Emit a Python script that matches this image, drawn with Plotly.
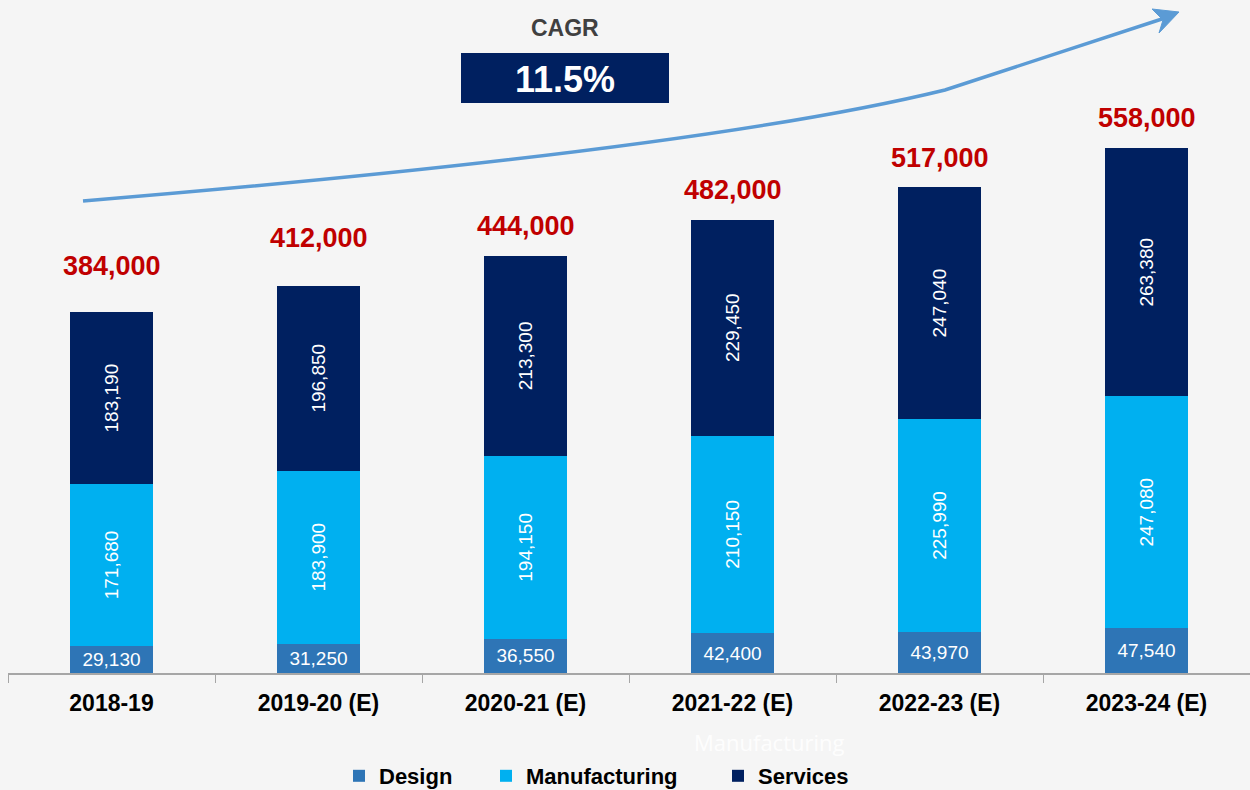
import plotly.graph_objects as go

# ---- data ----
years = ["2018-19", "2019-20 (E)", "2020-21 (E)", "2021-22 (E)", "2022-23 (E)", "2023-24 (E)"]
design = [29130, 31250, 36550, 42400, 43970, 47540]
manufacturing = [171680, 183900, 194150, 210150, 225990, 247080]
services = [183190, 196850, 213300, 229450, 247040, 263380]
totals = [384000, 412000, 444000, 482000, 517000, 558000]
cagr_text = "11.5%"

# ---- styling ----
W, H = 1250, 790
ML, MR, MT, MB = 8, 0, 0, 117
PW, PH = W - ML - MR, H - MT - MB
FONT = "Liberation Sans"
C_DESIGN, C_MANU, C_SERV = "#2e75b6", "#00b0f0", "#002060"
label_lift = [46, 48, 30, 30, 29, 30]
legend_text_x = [381, 528, 760]


def px(x):
    return (x - ML) / PW


def py(y):
    return (H - MB - y) / PH


fig = go.Figure()
series = [("Design", design, C_DESIGN, 0), ("Manufacturing", manufacturing, C_MANU, -90),
          ("Services", services, C_SERV, -90)]
legend_ids = ["legend", "legend2", "legend3"]
for (name, vals, col, ang), lid in zip(series, legend_ids):
    fig.add_trace(go.Bar(
        x=years, y=vals, name=name, legend=lid,
        marker=dict(color=col, line=dict(width=0)),
        text=[f"{v:,}" for v in vals], textposition="inside", insidetextanchor="middle",
        textangle=ang, constraintext="none",
        textfont=dict(color="white", size=19, family=FONT), width=0.4,
    ))

annotations = []
for yr, t, lift in zip(years, totals, label_lift):
    annotations.append(dict(x=yr, y=t, text=f"{t:,}", showarrow=False, yshift=lift,
                            xanchor="center", yanchor="middle",
                            font=dict(color="#c00000", size=27, family=FONT, weight="bold")))

annotations.append(dict(xref="paper", yref="paper", x=px(565), y=py(28), text="CAGR",
                        xanchor="center", yanchor="middle", showarrow=False,
                        font=dict(color="#404040", size=23, family=FONT, weight="bold")))
annotations.append(dict(xref="paper", yref="paper", x=px(565), y=py(79), text=cagr_text,
                        xanchor="center", yanchor="middle", showarrow=False,
                        font=dict(color="white", size=36, family=FONT, weight="bold")))
annotations.append(dict(xref="paper", yref="paper", x=px(770), y=py(742), text="Manufacturing",
                        xanchor="center", yanchor="middle", showarrow=False,
                        font=dict(color="rgba(255,255,255,0.9)", size=22, family="Open Sans")))

shapes = [
    dict(type="rect", xref="paper", yref="paper", x0=px(461), x1=px(669), y0=py(103), y1=py(53),
         fillcolor=C_SERV, line=dict(width=0), layer="below"),
    dict(type="path", xref="paper", yref="paper",
         path=f"M {px(83)},{py(201)} Q {px(700)},{py(150)} {px(945)},{py(90)} L {px(1168)},{py(17)}",
         line=dict(color="#5b9bd5", width=3.5)),
    dict(type="path", xref="paper", yref="paper",
         path=f"M {px(1179)},{py(12)} L {px(1152)},{py(9)} L {px(1163)},{py(20)} L {px(1159)},{py(33)} Z",
         fillcolor="#5b9bd5", line=dict(color="#5b9bd5", width=1)),
]

legend_common = dict(orientation="h", yanchor="middle", y=py(776), xanchor="left",
                     font=dict(size=22, color="black", family=FONT, weight="bold"),
                     bgcolor="rgba(0,0,0,0)", borderwidth=0)
legends = {}
for lid, tx in zip(legend_ids, legend_text_x):
    legends[lid] = dict(legend_common, x=px(tx - 42))

fig.update_layout(
    width=W, height=H, barmode="stack",
    margin=dict(l=ML, r=MR, t=MT, b=MB, autoexpand=False),
    paper_bgcolor="#f5f5f5", plot_bgcolor="rgba(0,0,0,0)",
    font=dict(family=FONT),
    annotations=annotations, shapes=shapes,
    xaxis=dict(showline=True, linecolor="#a6a6a6", linewidth=1.5, ticks="outside",
               tickson="boundaries", ticklen=8, tickcolor="#a6a6a6", ticklabelstandoff=9,
               automargin=False,
               tickfont=dict(size=23, color="black", family=FONT, weight="bold"),
               showgrid=False, fixedrange=True),
    yaxis=dict(visible=False, range=[0, PH / 0.00094], fixedrange=True, automargin=False),
    showlegend=True,
    **legends,
)

fig.write_html("out.html", config={"displayModeBar": False},
               post_script="document.body.style.margin='0';document.body.style.overflow='hidden';")
